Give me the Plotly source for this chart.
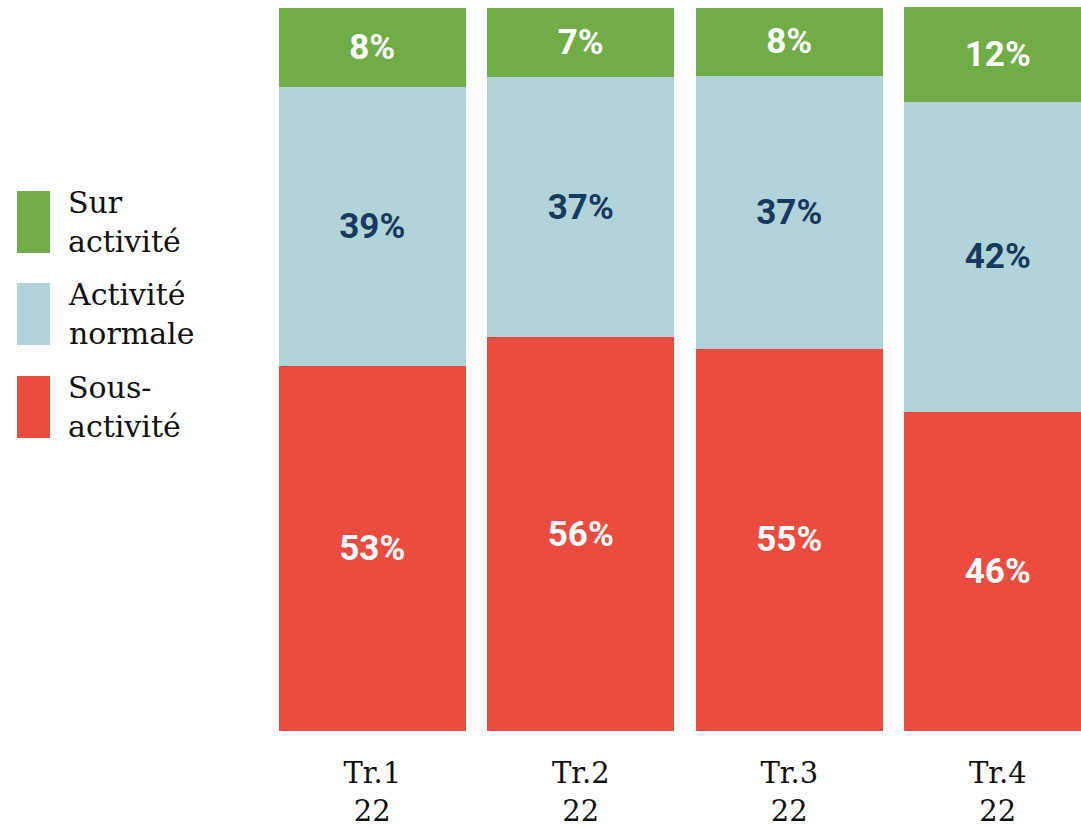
import plotly.graph_objects as go

# ---- data ----
categories = ["Tr.1<br>22", "Tr.2<br>22", "Tr.3<br>22", "Tr.4<br>22"]
series_names = ["Sous-<br>activité", "Activité<br>normale", "Sur<br>activité"]
# segment heights (percent of axis)
sous_activite = [50.4, 54.4, 52.8, 44.1]
activite_normale = [38.5, 35.9, 37.7, 42.8]
sur_activite = [11.0, 9.5, 9.4, 13.1]
# printed labels
sous_labels = ["53%", "56%", "55%", "46%"]
normale_labels = ["39%", "37%", "37%", "42%"]
sur_labels = ["8%", "7%", "8%", "12%"]

colors = ["#EA4D3F", "#B1D3DA", "#70AD47"]
text_colors = ["#FFFFFF", "#183A5E", "#FFFFFF"]

W, H = 1081, 827
ml, mr, mt, mb = 268, 0, 7, 96
pitch = 208.5
plot_w = W - ml - mr
plot_h = H - mt - mb

x = list(range(len(categories)))
values = [sous_activite, activite_normale, sur_activite]
labels = [sous_labels, normale_labels, sur_labels]

fig = go.Figure()
for name, vals, labs, col, tcol in zip(series_names, values, labels, colors, text_colors):
    fig.add_trace(go.Bar(
        x=x, y=vals, name=name, text=labs,
        marker=dict(color=col, line=dict(width=0)),
        width=187 / pitch,
        textposition="inside", insidetextanchor="middle", textangle=0,
        textfont=dict(family="Roboto, Arial, sans-serif", size=35, color=tcol, weight="bold"),
        hoverinfo="skip", showlegend=False,
    ))

# legend drawn at left with tall swatches
def px_x(p):
    return (p - ml) / plot_w

def px_y(p):
    return (H - mb - p) / plot_h

legend_items = [(series_names[2], colors[2], 191, 253),
                (series_names[1], colors[1], 283, 345),
                (series_names[0], colors[0], 376, 438)]
for name, col, y0, y1 in legend_items:
    fig.add_shape(type="rect", xref="paper", yref="paper",
                  x0=px_x(17), x1=px_x(50), y0=px_y(y1), y1=px_y(y0),
                  fillcolor=col, line=dict(width=0), layer="above")
    fig.add_annotation(xref="paper", yref="paper", x=px_x(66), y=px_y((y0 + y1) / 2),
                       xanchor="left", yanchor="middle", align="left", showarrow=False,
                       text=name, font=dict(family="Roboto Slab, DejaVu Serif, serif", size=30, color="#111111"))

fig.update_layout(
    barmode="stack", bargap=0,
    width=W, height=H,
    margin=dict(l=ml, r=mr, t=mt, b=mb),
    paper_bgcolor="white", plot_bgcolor="white",
    xaxis=dict(range=[-0.5, -0.5 + plot_w / pitch], tickvals=x, ticktext=categories,
               showgrid=False, zeroline=False, showline=False, ticks="",
               ticklabelstandoff=22, fixedrange=True,
               tickfont=dict(family="Roboto Slab, DejaVu Serif, serif", size=29, color="#111111")),
    yaxis=dict(range=[0, 100], visible=False, showgrid=False, zeroline=False, fixedrange=True),
)

fig.write_html("out.html", config={"displayModeBar": False, "staticPlot": True},
               post_script="document.body.style.margin='0px';document.body.style.overflow='hidden';")
